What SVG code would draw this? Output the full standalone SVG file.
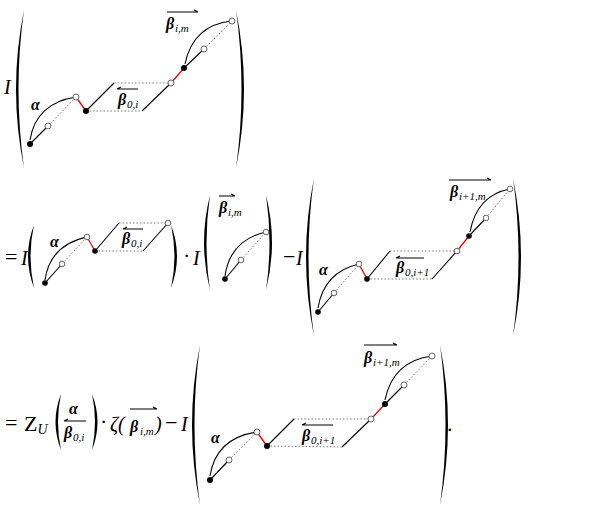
<svg xmlns="http://www.w3.org/2000/svg" width="603" height="510" viewBox="0 0 603 510">
<style>
.b{stroke:#000;stroke-width:1.1;fill:none}
.r{stroke:#e00;stroke-width:1.3;fill:none}
.d{stroke:#777;stroke-width:1;stroke-dasharray:1.5 2;fill:none}
.oc{fill:#fff;stroke:#555;stroke-width:0.9}
.fc{fill:#000}
.par{fill:#000}
text{font-family:"Liberation Serif",serif;fill:#000}
.m{font-style:italic;font-size:20px}
.l{font-style:italic;font-weight:bold;font-size:16px}
.s{font-style:italic;font-size:11px}
.op{font-size:22px}
</style>
<g id="row1">
<text class="m" x="4" y="94">I</text>
<path class="par" d="M24,10 Q8,89 24,168 Q13,89 24,10Z"/>
<path class="par" d="M236,10 Q252,89 236,168 Q247,89 236,10Z"/>
<g id="fig1">
<path class="b" d="M30,140 Q36,103 76,97"/>
<path class="b" d="M30,144 L48,126"/>
<path class="d" d="M48,126 L76,97"/>
<path class="r" d="M76,97 L86,111"/>
<path class="b" d="M86,111 L114,83"/>
<path class="d" d="M114,83 L171,83 M86,111 L142,111"/>
<path class="b" d="M142,111 L171,83"/>
<path class="r" d="M171,83 L184,68"/>
<path class="b" d="M184,68 L204,49"/>
<path class="d" d="M204,49 L232,21"/>
<path class="b" d="M185,64 Q193,25 232,21"/>
<circle class="oc" cx="48" cy="126" r="3"/><circle class="oc" cx="76" cy="97" r="3"/>
<circle class="fc" cx="30" cy="144" r="3"/><circle class="fc" cx="86" cy="111" r="3"/>
<circle class="oc" cx="171" cy="83" r="3"/><circle class="fc" cx="184" cy="68" r="3"/>
<circle class="oc" cx="204" cy="49" r="3"/><circle class="oc" cx="232" cy="21" r="3"/>
<text class="l" x="31" y="110">α</text>
<path class="b" d="M117,89 L138,89 M117,89 L121,87" stroke-width="0.8"/>
<text class="l" x="118" y="105">β</text><text class="s" x="127" y="108">0,i</text>
<path class="b" d="M167,12 L198,12 M198,12 L194,10" stroke-width="0.8"/>
<text class="l" x="166" y="29">β</text><text class="s" x="175" y="32">i,m</text>
</g>
</g>
<g id="row2">
<text class="op" x="5" y="264">=</text>
<text class="m" x="21" y="265">I</text>
<path class="par" d="M34,225 Q22,256 34,288 Q27,256 34,225Z"/>
<path class="par" d="M171,225 Q183,256 171,288 Q178,256 171,225Z"/>
<g id="fig2">
<path class="b" d="M45,280 Q50,245 87,237"/>
<path class="b" d="M45,283 L62,264"/>
<path class="d" d="M62,264 L87,237"/>
<path class="r" d="M87,237 L95,251"/>
<path class="b" d="M95,251 L119,223"/>
<path class="d" d="M119,223 L168,223 M95,251 L143,251"/>
<path class="b" d="M143,251 L168,223"/>
<circle class="oc" cx="62" cy="264" r="2.8"/><circle class="oc" cx="87" cy="237" r="2.8"/>
<circle class="fc" cx="45" cy="283" r="2.8"/><circle class="fc" cx="95" cy="251" r="2.8"/>
<circle class="oc" cx="168" cy="223" r="2.8"/>
<text class="l" x="50" y="247">α</text>
<path class="b" d="M123,229 L143,229 M123,229 L127,227" stroke-width="0.8"/>
<text class="l" x="122" y="244">β</text><text class="s" x="131" y="247">0,i</text>
</g>
<text class="op" x="183" y="263">·</text>
<text class="m" x="193" y="265">I</text>
<path class="par" d="M210,195 Q198,243 210,290 Q203,243 210,195Z"/>
<path class="par" d="M266,195 Q278,243 266,290 Q273,243 266,195Z"/>
<g id="fig3">
<path class="b" d="M225,276 Q230,240 266,232"/>
<path class="b" d="M225,279 L241,260"/>
<path class="d" d="M241,260 L266,232"/>
<circle class="oc" cx="241" cy="260" r="2.8"/><circle class="oc" cx="266" cy="232" r="2.8"/>
<circle class="fc" cx="225" cy="279" r="2.8"/>
<path class="b" d="M219,196 L235,196 M235,196 L231,194" stroke-width="0.8"/>
<text class="l" x="219" y="213">β</text><text class="s" x="228" y="216">i,m</text>
</g>
<text class="op" x="283" y="264">−</text>
<text class="m" x="296" y="265">I</text>
<path class="par" d="M314,178 Q298,257 314,336 Q303,257 314,178Z"/>
<path class="par" d="M513,178 Q529,257 513,336 Q524,257 513,178Z"/>
<g id="fig4">
<path class="b" d="M318,308 Q324,272 359,264"/>
<path class="b" d="M318,312 L334,293"/>
<path class="d" d="M334,293 L359,264"/>
<path class="r" d="M359,264 L367,279"/>
<path class="b" d="M367,279 L390,251"/>
<path class="d" d="M390,251 L457,251 M367,279 L432,279"/>
<path class="b" d="M432,279 L457,251"/>
<path class="r" d="M457,251 L469,236"/>
<path class="b" d="M469,236 L486,218"/>
<path class="d" d="M486,218 L510,189"/>
<path class="b" d="M470,232 Q477,195 510,189"/>
<circle class="oc" cx="334" cy="293" r="2.8"/><circle class="oc" cx="359" cy="264" r="2.8"/>
<circle class="fc" cx="318" cy="312" r="2.8"/><circle class="fc" cx="367" cy="279" r="2.8"/>
<circle class="oc" cx="457" cy="251" r="2.8"/><circle class="fc" cx="469" cy="236" r="2.8"/>
<circle class="oc" cx="486" cy="218" r="2.8"/><circle class="oc" cx="510" cy="189" r="2.8"/>
<text class="l" x="319" y="275">α</text>
<path class="b" d="M396,258 L424,258 M396,258 L400,256" stroke-width="0.8"/>
<text class="l" x="396" y="273">β</text><text class="s" x="405" y="276">0,i+1</text>
<path class="b" d="M449,180 L491,180 M491,180 L487,178" stroke-width="0.8"/>
<text class="l" x="450" y="197">β</text><text class="s" x="459" y="200">i+1,m</text>
</g>
</g>
<g id="row3">
<text class="op" x="5" y="430">=</text>
<text class="op" x="24" y="431">Z<tspan font-size="14" font-style="italic" dy="3">U</tspan></text>
<path class="par" d="M61,394 Q50,422 61,450 Q55,422 61,394Z"/>
<path class="par" d="M92,394 Q103,422 92,450 Q98,422 92,394Z"/>
<text class="l" x="69" y="414">α</text>
<path class="b" d="M64,421 L86,421 M64,421 L68,419" stroke-width="0.8"/>
<text class="l" x="64" y="438">β</text><text class="s" x="73" y="441">0,i</text>
<text class="op" x="100" y="429">·</text>
<text class="m" x="110" y="431">ζ(</text>
<path class="b" d="M130,409 L157,409 M157,409 L153,407" stroke-width="0.8"/>
<text class="l" x="130" y="432" font-size="18">β</text><text class="s" x="140" y="435">i,m</text>
<text class="m" x="155" y="431">)</text>
<text class="op" x="165" y="430">−</text>
<text class="m" x="181" y="431">I</text>
<path class="par" d="M200,345 Q184,425 200,505 Q189,425 200,345Z"/>
<path class="par" d="M440,345 Q456,425 440,505 Q451,425 440,345Z"/>
<text class="op" x="447" y="431">.</text>
<g id="fig5">
<path class="b" d="M210,476 Q216,438 257,432"/>
<path class="b" d="M210,480 L229,460"/>
<path class="d" d="M229,460 L257,432"/>
<path class="r" d="M257,432 L267,446"/>
<path class="b" d="M267,446 L294,419"/>
<path class="d" d="M294,419 L371,419 M267,446 L342,447"/>
<path class="b" d="M342,447 L371,419"/>
<path class="r" d="M371,419 L385,404"/>
<path class="b" d="M385,404 L404,385"/>
<path class="d" d="M404,385 L432,356"/>
<path class="b" d="M385,400 Q393,361 432,356"/>
<circle class="oc" cx="229" cy="460" r="3"/><circle class="oc" cx="257" cy="432" r="3"/>
<circle class="fc" cx="210" cy="480" r="3"/><circle class="fc" cx="267" cy="446" r="3"/>
<circle class="oc" cx="371" cy="419" r="3"/><circle class="fc" cx="385" cy="404" r="3"/>
<circle class="oc" cx="404" cy="385" r="3"/><circle class="oc" cx="432" cy="356" r="3"/>
<text class="l" x="211" y="443">α</text>
<path class="b" d="M302,425 L333,425 M302,425 L306,423" stroke-width="0.8"/>
<text class="l" x="302" y="441">β</text><text class="s" x="311" y="444">0,i+1</text>
<path class="b" d="M364,345 L397,345 M397,345 L393,343" stroke-width="0.8"/>
<text class="l" x="364" y="363">β</text><text class="s" x="373" y="366">i+1,m</text>
</g>
</g>
</svg>
